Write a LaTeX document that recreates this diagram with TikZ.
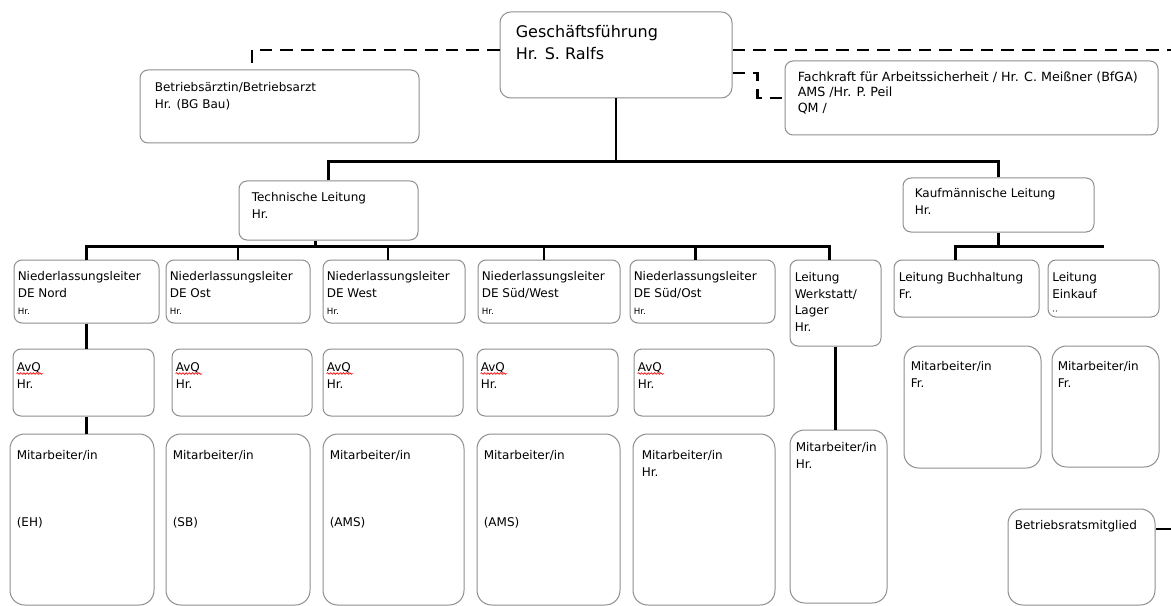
\documentclass[tikz,border=0pt]{standalone}
\usepackage{fontspec}
\setmainfont{DejaVu Sans}
\usetikzlibrary{fit,decorations.pathmorphing}

\definecolor{boxgray}{HTML}{8E8E8E}
\newcommand{\gffont}{\fontsize{12}{16.5}\selectfont}
\newcommand{\boxfont}{\fontsize{9}{12.5}\selectfont}
\newcommand{\sifafont}{\fontsize{9.5}{11.6}\selectfont}
\newcommand{\hrfont}{\fontsize{6.5}{8}\selectfont}

\tikzset{
  box/.style={draw=boxgray, line width=0.75pt, rounded corners=6pt, inner sep=0pt},
  bigbox/.style={box, rounded corners=11pt},
  boxtext/.style={anchor=north west, inner sep=0pt, align=left, font=\boxfont},
  link/.style={line width=2pt},
  dashlink/.style={line width=2pt, dash pattern=on 9.5pt off 6pt},
  spell/.style={red, line width=0.5pt, decorate, decoration={snake, amplitude=0.6pt, segment length=2.4pt}},
}

\begin{document}
\begin{tikzpicture}[x=0.75pt, y=-0.75pt]
\useasboundingbox (0,0) rectangle (1171,606);

% management and staff positions
\node[box, rounded corners=8pt, fit={(500,12) (732,98)}] (gf) {};
\node[boxtext, font=\gffont] (gftext) at ([shift={(16,13.5)}]gf.north west) {Geschäftsführung\\Hr. S. Ralfs};
\node[box, fit={(140,70) (419,143)}] (arzt) {};
\node[boxtext] (arzttext) at ([shift={(15,13)}]arzt.north west) {Betriebsärztin/Betriebsarzt\\Hr. (BG Bau)};
\node[box, fit={(785,61) (1158,135)}] (sifa) {};
\node[boxtext, font=\sifafont] (sifatext) at ([shift={(13,11)}]sifa.north west) {Fachkraft für Arbeitssicherheit / Hr. C. Meißner (BfGA)\\AMS /Hr. P. Peil\\QM /};

\node[box, fit={(239,181) (418,240)}] (tech) {};
\node[boxtext] (techtext) at ([shift={(13,12)}]tech.north west) {Technische Leitung\\Hr.};
\node[box, fit={(903,178) (1094,232)}] (kfm) {};
\node[boxtext] (kfmtext) at ([shift={(12,10.5)}]kfm.north west) {Kaufmännische Leitung\\Hr.};

% branch managers
\node[box, fit={(14,260) (159,323)}] (nlnord) {};
\node[boxtext] (nlnordtext) at ([shift={(4,12)}]nlnord.north west) {Niederlassungsleiter\\DE Nord\\{\hrfont Hr.}};
\node[box, fit={(166,260) (310,323)}] (nlost) {};
\node[boxtext] (nlosttext) at ([shift={(4,12)}]nlost.north west) {Niederlassungsleiter\\DE Ost\\{\hrfont Hr.}};
\node[box, fit={(323,260) (465,323)}] (nlwest) {};
\node[boxtext] (nlwesttext) at ([shift={(4,12)}]nlwest.north west) {Niederlassungsleiter\\DE West\\{\hrfont Hr.}};
\node[box, fit={(478,260) (620,323)}] (nlsw) {};
\node[boxtext] (nlswtext) at ([shift={(4,12)}]nlsw.north west) {Niederlassungsleiter\\DE Süd/West\\{\hrfont Hr.}};
\node[box, fit={(630,260) (775,323)}] (nlso) {};
\node[boxtext] (nlsotext) at ([shift={(4,12)}]nlso.north west) {Niederlassungsleiter\\DE Süd/Ost\\{\hrfont Hr.}};
\node[box, fit={(790,260) (881,346)}] (werk) {};
\node[boxtext] (werktext) at ([shift={(5,12.5)}]werk.north west) {Leitung\\Werkstatt/\\Lager\\Hr.};
\node[box, fit={(894,260) (1039,317)}] (buch) {};
\node[boxtext] (buchtext) at ([shift={(5,12.5)}]buch.north west) {Leitung Buchhaltung\\Fr.};
\node[box, fit={(1048,260) (1159,317)}] (eink) {};
\node[boxtext] (einktext) at ([shift={(4.5,12.5)}]eink.north west) {Leitung\\Einkauf\\{\hrfont ··}};

% AvQ
\node[box, fit={(13,349) (154,416)}] (avqnord) {};
\node[boxtext] (avqnordtext) at ([shift={(4,14)}]avqnord.north west) {AvQ\\Hr.};
\node[box, fit={(172,349) (312,416)}] (avqost) {};
\node[boxtext] (avqosttext) at ([shift={(4,14)}]avqost.north west) {AvQ\\Hr.};
\node[box, fit={(323,349) (463,416)}] (avqwest) {};
\node[boxtext] (avqwesttext) at ([shift={(4,14)}]avqwest.north west) {AvQ\\Hr.};
\node[box, fit={(477,349) (618,416)}] (avqsw) {};
\node[boxtext] (avqswtext) at ([shift={(4,14)}]avqsw.north west) {AvQ\\Hr.};
\node[box, fit={(634,349) (774,416)}] (avqso) {};
\node[boxtext] (avqsotext) at ([shift={(4,14)}]avqso.north west) {AvQ\\Hr.};
\draw[spell] ([shift={(0,11)}]avqnordtext.north west) -- ++(26,0);
\draw[spell] ([shift={(0,11)}]avqosttext.north west) -- ++(26,0);
\draw[spell] ([shift={(0,11)}]avqwesttext.north west) -- ++(26,0);
\draw[spell] ([shift={(0,11)}]avqswtext.north west) -- ++(26,0);
\draw[spell] ([shift={(0,11)}]avqsotext.north west) -- ++(26,0);

% staff
\node[bigbox, fit={(10,434) (154,605)}] (manord) {};
\node[boxtext] (manordtext) at ([shift={(7,17)}]manord.north west) {Mitarbeiter/in\\[37.5pt](EH)};
\node[bigbox, fit={(166,434) (310,605)}] (maost) {};
\node[boxtext] (maosttext) at ([shift={(7,17)}]maost.north west) {Mitarbeiter/in\\[37.5pt](SB)};
\node[bigbox, fit={(323,434) (464,605)}] (mawest) {};
\node[boxtext] (mawesttext) at ([shift={(7,17)}]mawest.north west) {Mitarbeiter/in\\[37.5pt](AMS)};
\node[bigbox, fit={(477,434) (620,605)}] (masw) {};
\node[boxtext] (maswtext) at ([shift={(7,17)}]masw.north west) {Mitarbeiter/in\\[37.5pt](AMS)};
\node[bigbox, fit={(633,434) (775,605)}] (maso) {};
\node[boxtext] (masotext) at ([shift={(9,17)}]maso.north west) {Mitarbeiter/in\\Hr.};
\node[bigbox, fit={(790,430) (887,603)}] (mawerk) {};
\node[boxtext] (mawerktext) at ([shift={(6,13)}]mawerk.north west) {Mitarbeiter/in\\Hr.};
\node[bigbox, fit={(904,346) (1041,468)}] (mabuch) {};
\node[boxtext] (mabuchtext) at ([shift={(7,15.5)}]mabuch.north west) {Mitarbeiter/in\\Fr.};
\node[bigbox, fit={(1052,346) (1159,467)}] (maeink) {};
\node[boxtext] (maeinktext) at ([shift={(6,15.5)}]maeink.north west) {Mitarbeiter/in\\Fr.};
\node[bigbox, fit={(1008,509) (1155,605)}] (br) {};
\node[boxtext] (brtext) at ([shift={(7,11.5)}]br.north west) {Betriebsratsmitglied};

% connectors
\coordinate (dashend) at (1171,50);
\coordinate (brend) at (1171,529);
\draw[dashlink] ([shift={(0,-5)}]gf.west) -| ([shift={(-27.5,0)}]arzt.north);
\draw[dashlink] ([shift={(0,-5)}]gf.east) -- (dashend);
\draw[dashlink] ([shift={(0,18)}]gf.east) -- ++(25,0) |- (sifa.west);
\draw[link] (gf.south) -- ++(0,64);
\draw[link] (tech.north) -- ++(0,-19) -| (kfm.north);
\draw[link] ([shift={(-13,0)}]tech.south) -- ++(0,7);
\draw[link] (nlnord.north) -- ++(0,-13) -| ([shift={(-6,0)}]werk.north);
\draw[link] (nlost.north) -- ++(0,-13);
\draw[link] ([shift={(-6,0)}]nlwest.north) -- ++(0,-13);
\draw[link] ([shift={(-5,0)}]nlsw.north) -- ++(0,-13);
\draw[link] ([shift={(-7,0)}]nlso.north) -- ++(0,-13);
\draw[link] (kfm.south) -- ++(0,15);
\draw[link] ([shift={(-11,0)}]buch.north) -- ++(0,-13) coordinate (kbar) -- (kbar -| eink.north);
\draw[link] (nlnord.south) -- (nlnord.south |- avqnord.north);
\draw[link] (avqnord.south -| nlnord.south) -- (nlnord.south |- manord.north);
\draw[link] (werk.south) -- (werk.south |- mawerk.north);
\draw[link] (br.east |- brend) -- (brend);
\end{tikzpicture}
\end{document}
